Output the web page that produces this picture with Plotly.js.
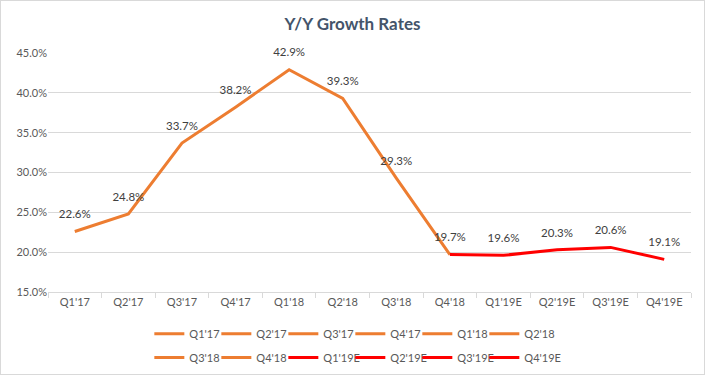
<!DOCTYPE html>
<html>
<head>
<meta charset="utf-8">
<script src="https://cdn.plot.ly/plotly-3.0.1.min.js"></script>
<style>
  html, body { margin: 0; padding: 0; background: #ffffff; }
  #chart { width: 703px; height: 373px; border: 1px solid #D9D9D9; }
</style>
</head>
<body>
<div id="chart"></div>
<script>
const categories = ["Q1'17", "Q2'17", "Q3'17", "Q4'17", "Q1'18", "Q2'18", "Q3'18", "Q4'18", "Q1'19E", "Q2'19E", "Q3'19E", "Q4'19E"];
const growth = [22.6, 24.8, 33.7, 38.2, 42.9, 39.3, 29.3, 19.7, 19.6, 20.3, 20.6, 19.1];
const actualCount = 8;          // Q1'17 .. Q4'18 are actuals
const orange = '#ED7D31';
const red = '#FF0000';
const fam = 'Lato, "Open Sans", sans-serif';
const labelFont = { family: fam, size: 11.5, color: '#404040' };

const actX = categories.slice(0, actualCount);
const actY = growth.slice(0, actualCount);
const estX = categories.slice(actualCount - 1);
const estY = growth.slice(actualCount - 1);
const estText = estY.map((v, i) => i === 0 ? '' : v.toFixed(1) + '%');

const traces = [
  {
    type: 'scatter', mode: 'lines+markers+text', x: actX, y: actY,
    text: actY.map(v => v.toFixed(1) + '%'), textposition: 'top center', textfont: labelFont,
    line: { color: orange, width: 3 }, marker: { size: 15, color: 'rgba(0,0,0,0)' },
    showlegend: false, hoverinfo: 'x+y', cliponaxis: false
  },
  {
    type: 'scatter', mode: 'lines+markers+text', x: estX, y: estY,
    text: estText, textposition: 'top center', textfont: labelFont,
    line: { color: red, width: 3 }, marker: { size: 15, color: 'rgba(0,0,0,0)' },
    showlegend: false, hoverinfo: 'x+y', cliponaxis: false
  }
];

// per-point legend entries (Excel style)
categories.forEach((c, i) => {
  traces.push({
    type: 'scatter', mode: 'lines', x: [null], y: [null], name: c,
    line: { color: i < actualCount ? orange : red, width: 3 },
    showlegend: true, legend: i < 6 ? 'legend' : 'legend2'
  });
});
// invisible spacer entry so the last legend label is not clipped
['legend', 'legend2'].forEach(lg => {
  traces.push({
    type: 'scatter', mode: 'lines', x: [null], y: [null], name: ' ',
    line: { color: 'rgba(0,0,0,0)', width: 0 }, showlegend: true, legend: lg
  });
});

const legendCommon = {
  orientation: 'h', xref: 'container', yref: 'container', xanchor: 'left', yanchor: 'top',
  font: { family: fam, size: 11, color: '#595959' },
  entrywidth: 22, entrywidthmode: 'pixels', itemwidth: 30, bgcolor: 'rgba(0,0,0,0)',
  borderwidth: 0, tracegroupgap: 0, traceorder: 'normal'
};

const layout = {
  width: 703, height: 373,
  margin: { l: 47, r: 13, t: 52, b: 82, autoexpand: false },
  paper_bgcolor: '#ffffff', plot_bgcolor: '#ffffff',
  font: { family: fam, size: 11, color: '#595959' },
  title: {
    text: '<b>Y/Y Growth Rates</b>',
    font: { family: fam, size: 17, color: '#44546A' },
    x: 0.5, xanchor: 'center', y: 0.938, yanchor: 'middle', xref: 'container', yref: 'container'
  },
  xaxis: {
    type: 'category', categoryorder: 'array', categoryarray: categories,
    range: [-0.5, categories.length - 0.5], autorange: false,
    showgrid: false, showline: true, linecolor: '#D9D9D9', linewidth: 1,
    ticks: 'outside', tickson: 'boundaries', ticklen: 5, tickcolor: '#D9D9D9',
    tickfont: { family: fam, size: 11, color: '#595959' },
    zeroline: false, fixedrange: true, automargin: false
  },
  yaxis: {
    range: [15, 45], autorange: false, dtick: 5, tick0: 15, tickformat: '.1f', ticksuffix: '%',
    showgrid: true, gridcolor: '#D9D9D9', gridwidth: 1,
    showline: false, zeroline: false, ticks: '',
    tickfont: { family: fam, size: 11, color: '#595959' },
    fixedrange: true, automargin: false
  },
  showlegend: true,
  legend: Object.assign({}, legendCommon, { x: 0.211, y: 0.147 }),
  legend2: Object.assign({}, legendCommon, { x: 0.211, y: 0.083 })
};

Plotly.newPlot('chart', traces, layout, { displayModeBar: false, staticPlot: true });
</script>
</body>
</html>
